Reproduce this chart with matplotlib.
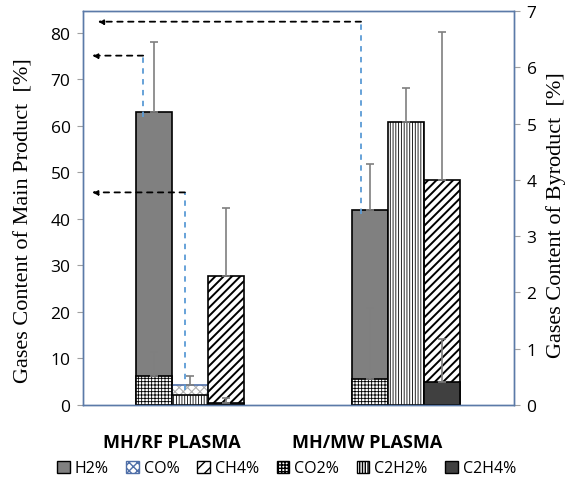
import numpy as np
import matplotlib.pyplot as plt
from matplotlib.patches import Patch

groups = ['MH/RF PLASMA', 'MH/MW PLASMA']
group_pos = [0.5, 5.92]

# main products (left axis, %)
h2 = [63.0, 42.0]
h2_err = [15.1, 9.7]
co = [4.3, 0.0]
co_err = [2.0, 0.0]
ch4 = [27.7, 48.4]
ch4_err = [14.7, 31.7]

# byproducts (right axis, %)
co2 = [0.52, 0.46]
co2_err = [0.42, 1.26]
c2h2 = [0.17, 5.03]
c2h2_err = [0.0, 0.61]
c2h4 = [0.03, 0.41]
c2h4_err = [0.10, 0.76]

axis_col = '#5b7aa8'
err_col = '#7f7f7f'

fig = plt.figure(figsize=(5.73, 4.85), dpi=100)
ax = fig.add_axes([0.1449, 0.1629, 0.7522, 0.8124])
ax2 = ax.twinx()

base = np.array([0, 6])   # first slot of each group
w = 1.0

# primary series
ax.bar(base, h2, w, color='#808080', edgecolor='black', lw=1.2, zorder=2)
with plt.rc_context({'hatch.linewidth': 0.8}):
    ax.bar(base + 1, co, w, color='white', edgecolor='#b0b0b0', hatch='xxxx', lw=0, zorder=2)
ax.bar(base + 1, co, w, fill=False, edgecolor='#4f6fa8', lw=1.2, zorder=2)
with plt.rc_context({'hatch.linewidth': 1.4}):
    ax.bar(base + 2, ch4, w, color='white', edgecolor='black', hatch='////', lw=1.2, zorder=2)
for xs, v, e in [(base, h2, h2_err), (base + 1, co, co_err), (base + 2, ch4, ch4_err)]:
    ax.errorbar(xs, v, yerr=[np.zeros(2), e], fmt='none', ecolor=err_col,
                elinewidth=1.2, capsize=3, capthick=1.2, zorder=3)

# secondary series
with plt.rc_context({'hatch.linewidth': 0.6}):
    ax2.bar(base, co2, w, color='white', edgecolor='black', hatch='+++++', lw=1.2, zorder=2)
    ax2.bar(base + 1, c2h2, w, color='white', edgecolor='black', hatch='||||||', lw=1.2, zorder=2)
ax2.bar(base + 2, c2h4, w, color='#404040', edgecolor='black', lw=1.2, zorder=2)
for xs, v, e in [(base, co2, co2_err), (base + 1, c2h2, c2h2_err), (base + 2, c2h4, c2h4_err)]:
    m = np.array(e) > 0
    ax2.errorbar(xs[m], np.array(v)[m], yerr=[np.zeros(m.sum()), np.array(e)[m]], fmt='none',
                 ecolor=err_col, elinewidth=1.2, capsize=3, capthick=1.2, zorder=3)

ax.set_xlim(-1.97, 10.0)
ax.set_ylim(0, 84.7)
ax2.set_ylim(0, 7)
ax.set_yticks(np.arange(0, 81, 10))
ax2.set_yticks(np.arange(0, 8, 1))

for a in (ax, ax2):
    for s in a.spines.values():
        s.set_color(axis_col)
        s.set_linewidth(1.0)
ax.tick_params(axis='y', direction='out', length=4, color='#a0a0a0', labelsize=12.5, pad=5)
ax2.tick_params(axis='y', direction='out', length=4, color='#a0a0a0', labelsize=12.5, pad=5)
for lab in ax.get_yticklabels() + ax2.get_yticklabels():
    lab.set_family('Open Sans')

ax.set_xticks([])
for gx, g in zip(group_pos, groups):
    ax.text(gx, -0.095, g, transform=ax.get_xaxis_transform(), ha='center', va='center',
            fontsize=13, fontweight='bold', family='Open Sans')

ax.set_ylabel('Gases Content of Main Product  [%]', family='Liberation Serif', fontsize=16)
ax.yaxis.set_label_coords(-0.116, 0.47)
ax2.set_ylabel('Gases Content of Byroduct  [%]', family='Liberation Serif', fontsize=16)
ax2.yaxis.set_label_coords(1.075, 0.485)

# dashed arrows pointing to the main-product axis
arrow_lines = [(6 - 0.25, 42.0, 82.4, -1.56), (0 - 0.3, 63.0, 75.1, -1.72), (1 - 0.14, 4.3, 45.7, -1.72)]
for xb, ytop, yarr, xend in arrow_lines:
    ax.plot([xb, xb], [ytop - 1, yarr], ls=(0, (3, 3)), color='#5b9bd5', lw=1.3, zorder=4)
    ax.annotate('', xy=(xend, yarr), xytext=(xb, yarr),
                arrowprops=dict(arrowstyle='-|>', ls=(0, (3, 3)), color='black', lw=1.3,
                                mutation_scale=8, shrinkA=0, shrinkB=0), zorder=4)

handles = [
    Patch(facecolor='#808080', edgecolor='black', label='H2%'),
    Patch(facecolor='white', edgecolor='#4f6fa8', hatch='xxxx', label='CO%'),
    Patch(facecolor='white', edgecolor='black', hatch='///', label='CH4%'),
    Patch(facecolor='white', edgecolor='black', hatch='+++++', label='CO2%'),
    Patch(facecolor='white', edgecolor='black', hatch='||||||', label='C2H2%'),
    Patch(facecolor='#404040', edgecolor='black', label='C2H4%'),
]
fig.legend(handles=handles, loc='center', bbox_to_anchor=(0.5, 0.032), ncol=6, frameon=False,
           prop={'family': 'Open Sans', 'size': 11.5}, handlelength=0.8, handleheight=0.8,
           handletextpad=0.3, columnspacing=1.1)

fig.savefig('out.png', dpi=100)
